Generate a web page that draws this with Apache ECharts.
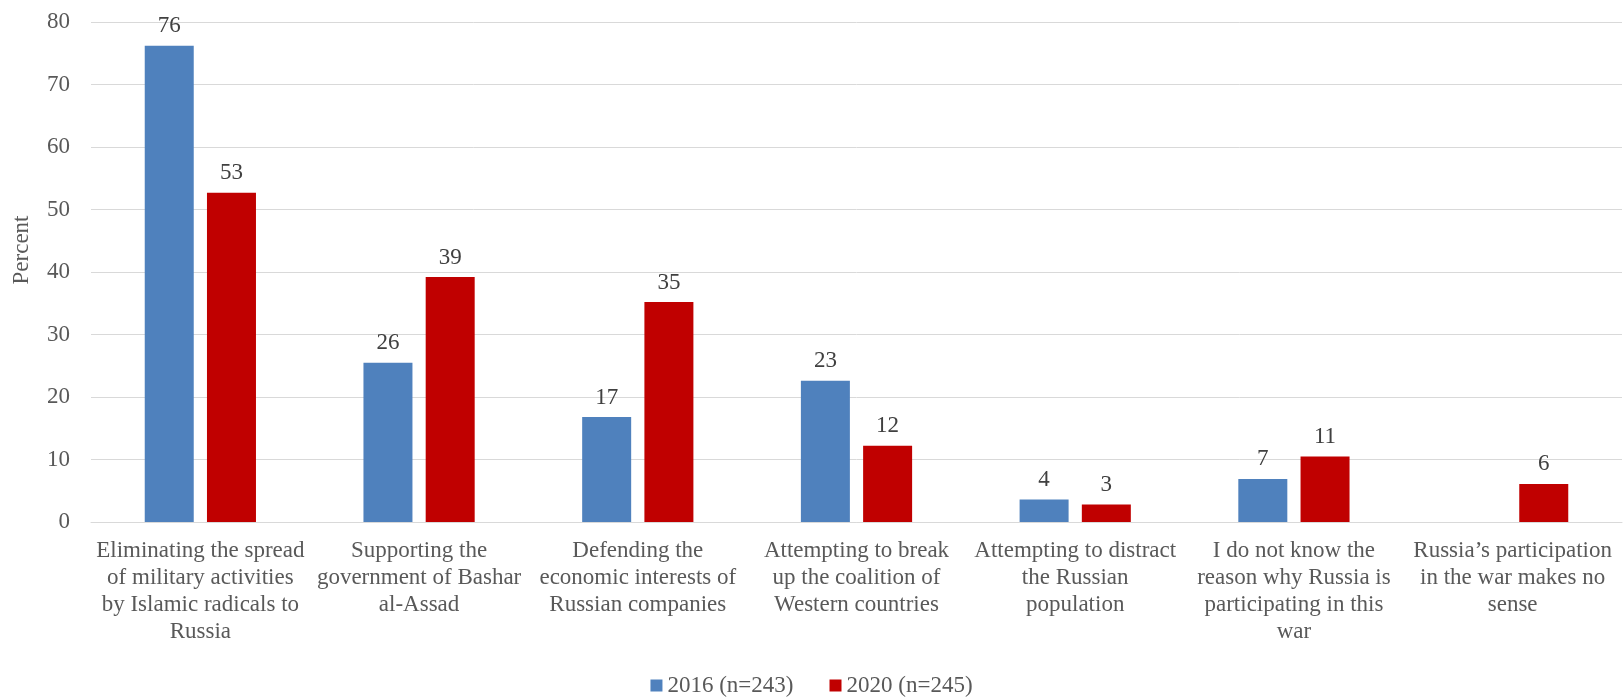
<!DOCTYPE html>
<html>
<head>
<meta charset="utf-8">
<script src="https://cdn.jsdelivr.net/npm/echarts@6/dist/echarts.min.js"></script>
<style>
  html, body { margin: 0; padding: 0; background: #fff; }
  #chart { width: 1623px; height: 697px; }
</style>
</head>
<body>
<div id="chart"></div>
<script>
const categories = [
    'Eliminating the spread\nof military activities\nby Islamic radicals to\nRussia',
    'Supporting the\ngovernment of Bashar\nal-Assad',
    'Defending the\neconomic interests of\nRussian companies',
    'Attempting to break\nup the coalition of\nWestern countries',
    'Attempting to distract\nthe Russian\npopulation',
    'I do not know the\nreason why Russia is\nparticipating in this\nwar',
    'Russia\u2019s participation\nin the war makes no\nsense'
];
const values2016 = [76.2, 25.5, 16.8, 22.6, 3.6, 6.9, null];
const values2020 = [52.7, 39.2, 35.2, 12.2, 2.8, 10.5, 6.1];
const seriesNames = ['2016 (n=243)', '2020 (n=245)'];

const chart = echarts.init(document.getElementById('chart'));
const font = 'Liberation Serif';

// value labels above bars, rounded like the source
const labelStyle = {
    show: true,
    position: 'top',
    distance: 8,
    fontFamily: font,
    fontSize: 23,
    color: '#404040',
    formatter: p => Math.round(p.value)
};

const option = {
    animation: false,
    textStyle: { fontFamily: font },
    grid: {
        left: 91,
        right: 1,
        top: 22,
        bottom: 175
    },
    legend: {
        data: seriesNames,
        bottom: -5,
        left: 'center',
        itemWidth: 12,
        itemHeight: 12,
        itemGap: 36,
        icon: 'rect',
        textStyle: { fontFamily: font, fontSize: 23, color: '#595959' }
    },
    xAxis: {
        type: 'category',
        data: categories,
        axisTick: { show: false },
        axisLine: { lineStyle: { color: '#d9d9d9', width: 1 } },
        axisLabel: {
            interval: 0,
            margin: 15,
            fontFamily: font,
            fontSize: 23,
            lineHeight: 27,
            color: '#595959'
        }
    },
    yAxis: {
        type: 'value',
        min: 0,
        max: 80,
        interval: 10,
        name: 'Percent',
        nameLocation: 'middle',
        nameGap: 58,
        nameTextStyle: { fontFamily: font, fontSize: 23, color: '#595959', padding: [0, 0, 0, 44] },
        axisLine: { show: false },
        axisTick: { show: false },
        axisLabel: { fontFamily: font, fontSize: 23, color: '#595959', margin: 21 },
        splitLine: { lineStyle: { color: '#d9d9d9', width: 1 } }
    },
    series: [
        {
            name: seriesNames[0],
            type: 'bar',
            data: values2016,
            barWidth: 49,
            barGap: '27%',
            itemStyle: { color: '#4f81bd' },
            label: labelStyle
        },
        {
            name: seriesNames[1],
            type: 'bar',
            data: values2020,
            barWidth: 49,
            barGap: '27%',
            itemStyle: { color: '#c00000' },
            label: labelStyle
        }
    ]
};

chart.setOption(option);
</script>
</body>
</html>
